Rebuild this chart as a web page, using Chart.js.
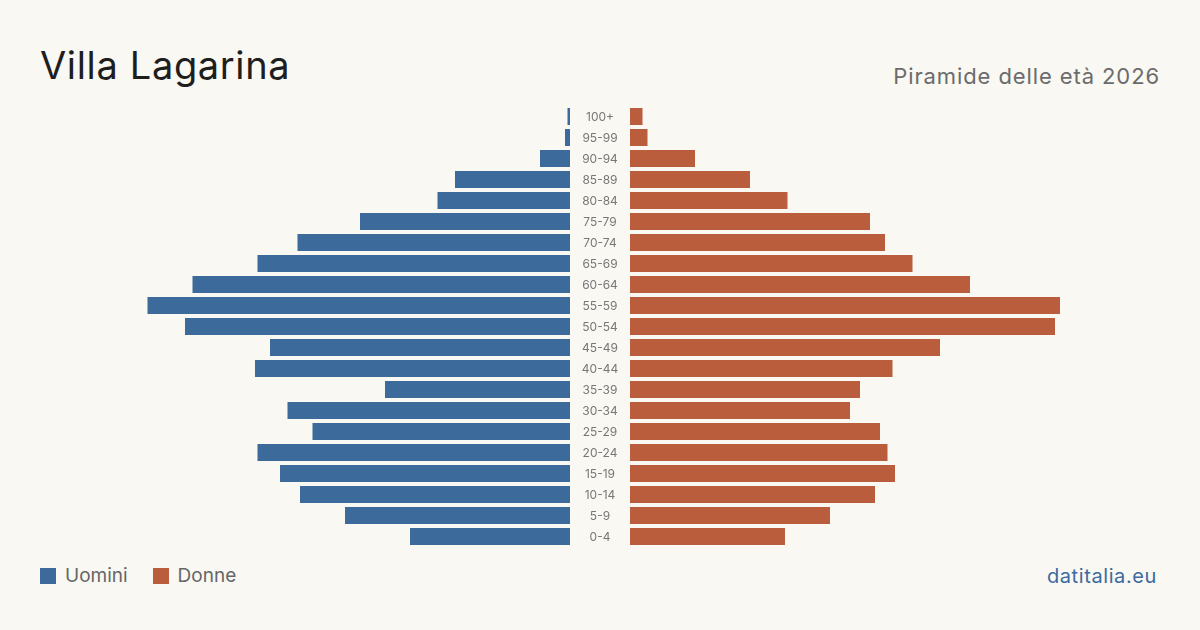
<!DOCTYPE html>
<html>
<head>
<meta charset="utf-8">
<script src="https://cdn.jsdelivr.net/npm/chart.js@4/dist/chart.umd.min.js"></script>
<style>
  html,body{margin:0;padding:0;}
  body{width:1200px;height:630px;background:#f9f8f3;position:relative;overflow:hidden;font-family:Inter,"Liberation Sans",sans-serif;}
  #title{position:absolute;left:40px;top:40px;font-size:38px;color:#1e1e1e;line-height:50px;letter-spacing:0.65px;}
  #subtitle{position:absolute;right:40px;top:61px;font-size:22px;color:#6b6b6b;line-height:30px;letter-spacing:0.9px;}
  #legend{position:absolute;left:40px;top:564px;font-size:19px;color:#666;line-height:24px;display:flex;align-items:center;}
  .sw{display:inline-block;width:16px;height:16px;margin-right:9px;}
  .item{display:flex;align-items:center;margin-right:25px;}
  #src{position:absolute;right:43px;top:563px;font-size:20px;color:#3b6aa0;line-height:26px;letter-spacing:0.6px;}
  #leftWrap{position:absolute;left:130px;top:106px;width:440px;height:441px;}
  #rightWrap{position:absolute;left:570px;top:106px;width:500px;height:441px;}
</style>
</head>
<body>
<div id="title">Villa Lagarina</div>
<div id="subtitle">Piramide delle età 2026</div>
<div id="leftWrap"><canvas id="left"></canvas></div>
<div id="rightWrap"><canvas id="right"></canvas></div>
<div id="legend">
  <span class="item"><span class="sw" style="background:#3b6a9b"></span>Uomini</span>
  <span class="item"><span class="sw" style="background:#b95d3c"></span>Donne</span>
</div>
<div id="src">datitalia.eu</div>
<script>
const ageGroups = ["100+","95-99","90-94","85-89","80-84","75-79","70-74","65-69","60-64","55-59","50-54","45-49","40-44","35-39","30-34","25-29","20-24","15-19","10-14","5-9","0-4"];
const men   = [1, 2, 12, 46, 53, 84, 109, 125, 151, 169, 154, 120, 126, 74, 113, 103, 125, 116, 108, 90, 64];
const women = [5, 7, 26, 48, 63, 96, 102, 113, 136, 172, 170, 124, 105, 92, 88, 100, 103, 106, 98, 80, 62];
const axisMax = 176;

const menColor = "#3b6a9b";
const womenColor = "#b95d3c";

Chart.defaults.font.family = 'Inter, "Liberation Sans", sans-serif';
Chart.defaults.animation = false;

const common = {
  indexAxis: 'y',
  responsive: true,
  maintainAspectRatio: false,
  animation: false,
  layout: {padding: 0},
  plugins: {legend: {display: false}, tooltip: {enabled: false}},
};

new Chart(document.getElementById('left'), {
  type: 'bar',
  data: {labels: ageGroups, datasets: [{data: men, backgroundColor: menColor, barPercentage: 0.81, categoryPercentage: 1}]},
  options: Object.assign({}, common, {
    scales: {
      x: {display: false, min: 0, max: axisMax, reverse: true},
      y: {display: false}
    }
  })
});

const centerLabels = {
  id: 'centerLabels',
  afterDraw(chart) {
    const y = chart.scales.y;
    const ctx = chart.ctx;
    ctx.save();
    ctx.font = '12px Inter, "Liberation Sans", sans-serif';
    ctx.fillStyle = '#777';
    ctx.textAlign = 'center';
    ctx.textBaseline = 'middle';
    const cx = y.left + y.width / 2;
    ageGroups.forEach((lab, i) => {
      ctx.fillText(lab, cx, y.getPixelForTick(i) + 1);
    });
    ctx.restore();
  }
};

new Chart(document.getElementById('right'), {
  type: 'bar',
  data: {labels: ageGroups, datasets: [{data: women, backgroundColor: womenColor, barPercentage: 0.81, categoryPercentage: 1}]},
  options: Object.assign({}, common, {
    scales: {
      x: {display: false, min: 0, max: axisMax},
      y: {
        display: true,
        position: 'left',
        grid: {display: false, drawTicks: false},
        border: {display: false},
        ticks: {display: false},
        afterFit: (s) => { s.width = 60; }
      }
    }
  }),
  plugins: [centerLabels]
});
</script>
</body>
</html>
